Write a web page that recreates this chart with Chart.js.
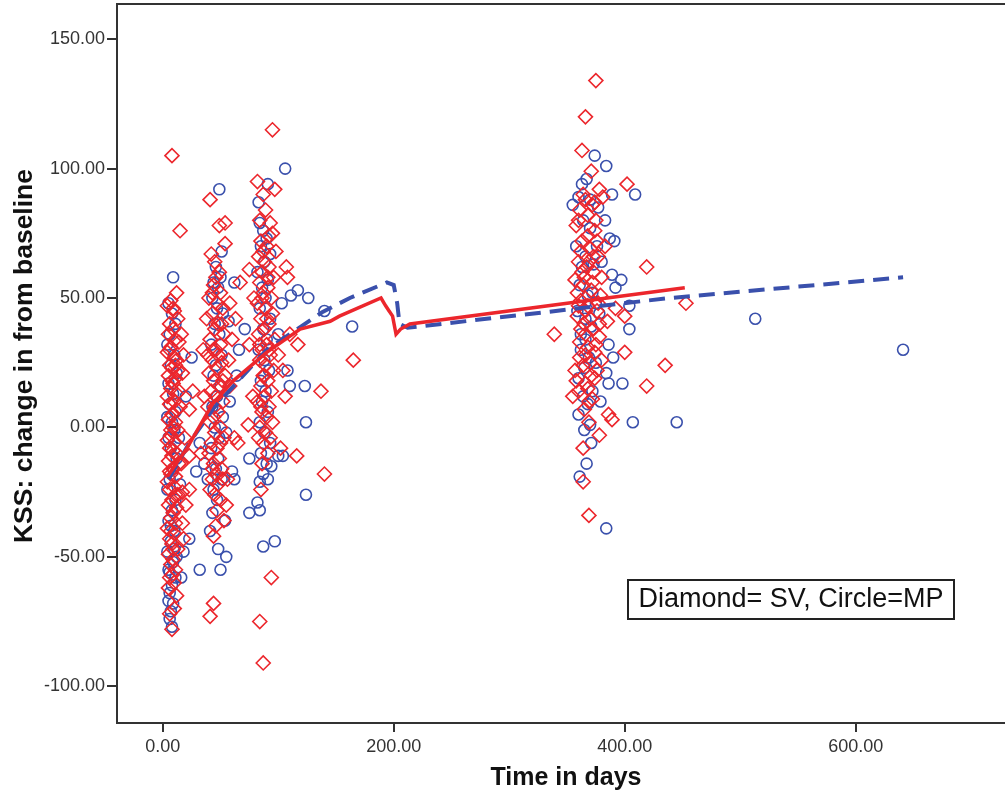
<!DOCTYPE html>
<html>
<head>
<meta charset="utf-8">
<title>KSS change from baseline</title>
<script src="https://cdn.jsdelivr.net/npm/chart.js@4.4.1/dist/chart.umd.min.js"></script>
<style>
  html, body { margin: 0; padding: 0; background: #fff; overflow: hidden; }
  #wrap { width: 1020px; height: 797px; }
</style>
</head>
<body>
<div id="wrap"><canvas id="kssChart" width="1020" height="797"></canvas></div>
<script>
// Tick labels
const xTicks = [0, 200, 400, 600];
const yTicks = [-100, -50, 0, 50, 100, 150];

// SV patients (diamonds): [days, KSS change]
const svWeek1 = [[8,105],[15,76],[7,49],[12,52],[4,47],[10,45],[13,42],[6,40],[9,38],[5,36],[11,34],[14,33],[7,31],[4,29],[10,27],[12,26],[6,24],[8,23],[13,22],[5,20],[11,19],[9,17],[7,15],[14,14],[4,12],[10,10],[6,9],[12,7],[8,5],[5,3],[11,2],[9,0],[13,-1],[7,-3],[4,-5],[10,-6],[6,-8],[12,-10],[8,-11],[5,-13],[14,-14],[9,-16],[7,-18],[11,-19],[4,-21],[10,-23],[6,-24],[13,-26],[8,-28],[5,-30],[12,-31],[9,-33],[7,-35],[11,-37],[4,-39],[10,-41],[6,-43],[8,-45],[13,-47],[5,-49],[9,-51],[7,-53],[11,-55],[8,-57],[10,-60],[6,-72],[8,-78],[17,-37],[18,-43],[16,-14],[19,-4],[15,8],[17,21],[18,28],[16,36],[23,-24],[23,-11],[26,14],[23,7],[17,-25],[20,-30],
  [9,46],[6,30],[11,24],[8,18],[12,13],[7,-1],[9,-9],[6,-17],[11,-26],[7,-40],[9,-47],[6,-58],[12,-65],[10,-70],[5,-62]];
const svWeek6 = [[41,88],[49,78],[54,79],[54,71],[42,67],[46,58],[44,55],[50,52],[40,50],[47,48],[52,46],[43,44],[38,42],[48,40],[45,38],[53,36],[41,34],[50,32],[46,30],[39,28],[43,26],[51,25],[47,23],[40,21],[54,20],[44,18],[49,16],[42,14],[46,12],[52,10],[39,8],[48,6],[44,4],[41,2],[50,0],[45,-2],[53,-4],[42,-6],[47,-8],[40,-10],[49,-12],[44,-14],[51,-16],[46,-18],[43,-20],[48,-22],[41,-24],[45,-26],[50,-28],[46,-38],[44,-68],[41,-73],[57,26],[60,34],[63,42],[58,16],[62,-4],[65,-6],[56,-20],[67,56],[75,61],[74,1],[58,48],[35,30],[33,-10],[36,12],[55,-30],[53,-36],
  [45,64],[49,60],[43,52],[51,40],[44,30],[48,28],[52,18],[45,8],[50,-6],[43,-16],[47,-32],[44,-42],[52,-20]];
const svMonth3 = [[95,115],[82,95],[87,90],[97,92],[93,79],[95,75],[85,72],[90,70],[98,68],[83,66],[88,64],[92,62],[86,60],[96,58],[84,56],[91,54],[87,52],[94,50],[82,48],[89,46],[95,44],[85,42],[92,40],[88,38],[83,36],[97,34],[90,32],[86,30],[93,28],[84,26],[89,24],[96,22],[87,20],[91,18],[85,16],[94,14],[88,12],[82,10],[92,8],[86,6],[90,4],[95,2],[84,0],[89,-2],[93,-4],[87,-6],[85,-24],[94,-58],[84,-75],[87,-91],[107,62],[108,58],[117,32],[110,36],[137,14],[140,-18],[116,-11],[104,22],[102,-8],[100,28],[106,12],[75,32],[78,12],[165,26],[79,50],
  [89,84],[84,80],[92,74],[87,68],[91,58],[86,50],[90,42],[84,32],[92,30],[88,20],[85,8],[91,-10],[86,-14],[83,-4]];
const svYear1 = [[375,134],[366,120],[363,107],[371,99],[378,92],[381,89],[402,94],[361,84],[358,78],[368,82],[374,76],[363,72],[370,69],[377,66],[360,64],[367,62],[373,60],[357,57],[364,55],[371,53],[379,51],[362,49],[368,47],[376,45],[385,41],[359,43],[365,40],[372,38],[378,35],[361,33],[368,31],[374,29],[380,26],[357,22],[364,24],[371,20],[374,19],[366,17],[360,14],[355,12],[369,10],[365,7],[369,2],[378,-3],[364,-8],[364,-21],[369,-34],[389,3],[386,5],[400,29],[400,43],[419,62],[419,16],[435,24],[453,48],[339,36],[383,70],[380,58],[392,46],
  [366,88],[372,86],[360,80],[375,80],[368,74],[362,68],[376,72],[365,58],[372,56],[359,52],[377,48],[366,45],[370,42],[362,38],[375,32],[366,28],[370,25],[361,27],[376,22],[368,15],[372,11],[358,18],[366,36],[373,66],[363,60],[369,64],[378,40],[360,47],[374,87],[364,90]];

// MP patients (circles): [days, KSS change]
const mpWeek1 = [[9,58],[5,48],[8,44],[11,40],[6,36],[4,32],[10,28],[7,24],[12,21],[5,17],[9,13],[6,9],[11,6],[4,4],[8,2],[10,-1],[5,-4],[7,-8],[12,-12],[9,-16],[6,-20],[4,-24],[11,-28],[8,-32],[5,-36],[10,-40],[7,-44],[4,-48],[9,-52],[6,-56],[11,-58],[8,-61],[6,-64],[5,-67],[7,-71],[8,-77],[16,-58],[23,-43],[15,-22],[29,-17],[32,-6],[32,-55],[18,-48],[20,12],[25,27],[14,-4],
  [7,-38],[10,-47],[5,-55],[9,-68],[6,-74],[12,-50]];
const mpWeek6 = [[49,92],[51,68],[46,62],[50,58],[44,56],[48,54],[43,50],[47,46],[52,44],[45,40],[49,36],[42,32],[51,28],[46,24],[44,20],[50,16],[47,12],[43,8],[52,4],[45,0],[49,-4],[42,-8],[48,-12],[46,-16],[51,-20],[44,-24],[47,-28],[43,-33],[41,-40],[48,-47],[50,-55],[55,-50],[60,-17],[62,-20],[62,56],[57,41],[64,20],[55,-2],[58,10],[66,30],[71,38],[36,-14],[54,-36],[39,-20]];
const mpMonth3 = [[106,100],[91,94],[83,87],[84,79],[87,76],[90,73],[85,70],[93,67],[88,64],[82,60],[91,57],[86,54],[89,50],[84,46],[93,42],[87,38],[90,34],[83,30],[88,26],[92,22],[85,18],[89,14],[86,10],[91,6],[84,2],[88,-2],[93,-6],[85,-10],[90,-14],[87,-18],[84,-21],[91,-20],[94,-15],[100,-11],[104,-11],[82,-29],[84,-32],[75,-33],[87,-46],[97,-44],[75,-12],[111,51],[117,53],[126,50],[140,45],[110,16],[123,16],[124,2],[124,-26],[164,39],[100,36],[103,48],[108,22]];
const mpYear1 = [[374,105],[384,101],[367,96],[363,94],[389,90],[409,90],[360,89],[355,86],[377,85],[364,80],[370,77],[387,73],[391,72],[358,70],[366,66],[373,63],[389,59],[397,57],[392,54],[361,55],[368,51],[375,48],[404,47],[359,45],[366,42],[371,39],[404,38],[386,32],[362,30],[369,27],[390,27],[384,21],[365,23],[398,17],[386,17],[372,14],[368,9],[360,5],[365,-1],[371,-6],[367,-14],[361,-19],[384,-39],[407,2],[445,2],[513,42],[641,30],[378,44],[362,36],
  [370,88],[376,70],[363,62],[380,64],[372,52],[366,34],[375,25],[360,19],[379,10],[364,12],[370,1],[383,80]];

// Fit lines
const svFitDays = [4, 21, 43, 61, 90, 119, 145, 153, 189, 193, 196, 199, 202, 206, 214, 452];
const svFitKss  = [-19, -8, 9, 18, 29, 38, 41, 43, 50, 47, 45, 43, 36, 38, 40, 54];
const mpFitDays = [5, 23, 45, 90, 138, 162, 194, 200, 203, 205, 212, 439, 641];
const mpFitKss  = [-20, -6, 8, 30, 44.5, 50, 56, 55, 48, 40, 38.5, 50, 58];

const red = 'rgb(236, 38, 44)';
const blue = 'rgb(58, 80, 172)';
const axisColor = '#333';
const fontFamily = '"Liberation Sans", Arial, sans-serif';

function toPoints(list) {
    return list.map(p => ({ x: p[0], y: p[1] }));
}

function zipPoints(xs, ys) {
    return xs.map((x, i) => ({ x: x, y: ys[i] }));
}

// Top frame line, y title and the note box
const framePlugin = {
    id: 'framePlugin',
    afterDraw(chart) {
        const ctx = chart.ctx;
        const area = chart.chartArea;
        ctx.save();
        ctx.strokeStyle = axisColor;
        ctx.lineWidth = 2;
        ctx.beginPath();
        ctx.moveTo(area.left, area.top);
        ctx.lineTo(chart.width, area.top);
        ctx.stroke();

        // y axis title
        ctx.save();
        ctx.translate(25, 356);
        ctx.rotate(-Math.PI / 2);
        ctx.fillStyle = '#111';
        ctx.font = 'bold 26.5px ' + fontFamily;
        ctx.textAlign = 'center';
        ctx.textBaseline = 'middle';
        ctx.fillText('KSS: change in from baseline', 0, 0);
        ctx.restore();

        // note box
        ctx.fillStyle = '#fff';
        ctx.fillRect(628, 580, 326, 39);
        ctx.lineWidth = 2;
        ctx.strokeStyle = '#222';
        ctx.strokeRect(628, 580, 326, 39);
        ctx.fillStyle = '#111';
        ctx.font = '27px ' + fontFamily;
        ctx.textBaseline = 'middle';
        ctx.textAlign = 'center';
        ctx.fillText('Diamond= SV, Circle=MP', 791, 600);
        ctx.restore();
    }
};

const ctx = document.getElementById('kssChart').getContext('2d');
const kssChart = new Chart(ctx, {
    type: 'scatter',
    data: {
        datasets: [
            {
                label: 'SV fit',
                data: zipPoints(svFitDays, svFitKss),
                showLine: true,
                borderColor: red,
                borderWidth: 3.5,
                pointRadius: 0,
                tension: 0,
                order: 0
            },
            {
                label: 'MP fit',
                data: zipPoints(mpFitDays, mpFitKss),
                showLine: true,
                borderColor: blue,
                borderWidth: 4,
                borderDash: [16, 9],
                pointRadius: 0,
                tension: 0,
                order: 1
            },
            {
                label: 'SV',
                data: toPoints([].concat(svWeek1, svWeek6, svMonth3, svYear1)),
                pointStyle: 'rectRot',
                pointRadius: 7,
                borderColor: red,
                backgroundColor: 'rgba(0,0,0,0)',
                borderWidth: 1.6,
                order: 2
            },
            {
                label: 'MP',
                data: toPoints([].concat(mpWeek1, mpWeek6, mpMonth3, mpYear1)),
                pointStyle: 'circle',
                pointRadius: 5.5,
                borderColor: blue,
                backgroundColor: 'rgba(0,0,0,0)',
                borderWidth: 1.6,
                order: 3
            }
        ]
    },
    options: {
        responsive: false,
        animation: false,
        layout: { autoPadding: false, padding: { top: 4, right: 5, left: 0, bottom: 0 } },
        plugins: {
            legend: { display: false },
            tooltip: { enabled: false }
        },
        scales: {
            x: {
                type: 'linear',
                min: -39.6,
                max: 737.9,
                afterFit(scale) {
                    scale.height = 74;
                    scale.paddingLeft = 0;
                    scale.paddingRight = 0;
                },
                afterBuildTicks(scale) { scale.ticks = xTicks.map(v => ({ value: v })); },
                border: { display: true, color: axisColor, width: 2 },
                grid: { drawOnChartArea: false, drawTicks: true, tickLength: 9, color: axisColor, lineWidth: 2 },
                ticks: {
                    color: '#333',
                    padding: 4,
                    maxRotation: 0,
                    font: { family: fontFamily, size: 18 },
                    callback: v => v.toFixed(2)
                },
                title: {
                    display: true,
                    text: 'Time in days',
                    color: '#111',
                    font: { family: fontFamily, size: 25, weight: 'bold' },
                    padding: { top: 0, bottom: 4 }
                }
            },
            y: {
                type: 'linear',
                min: -114.2,
                max: 163.6,
                afterFit(scale) {
                    scale.width = 117;
                    scale.paddingTop = 0;
                    scale.paddingBottom = 0;
                },
                afterBuildTicks(scale) { scale.ticks = yTicks.map(v => ({ value: v })); },
                border: { display: true, color: axisColor, width: 2 },
                grid: { drawOnChartArea: false, drawTicks: true, tickLength: 10, color: axisColor, lineWidth: 2 },
                ticks: {
                    color: '#333',
                    padding: 2,
                    font: { family: fontFamily, size: 18 },
                    callback: v => v.toFixed(2)
                },
                title: { display: false }
            }
        }
    },
    plugins: [framePlugin]
});
</script>
</body>
</html>
